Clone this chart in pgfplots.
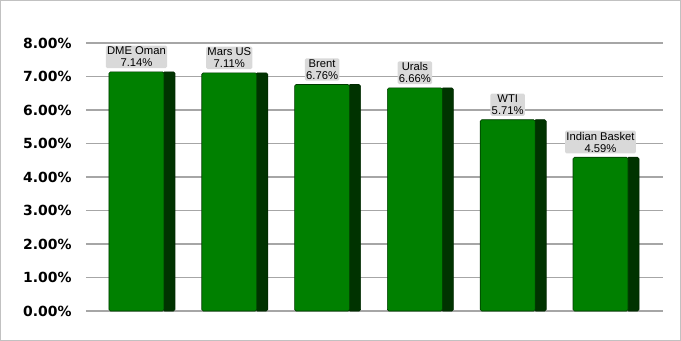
\documentclass[border=0pt]{standalone}
\usepackage{pgfplots}
\pgfplotsset{compat=1.18}
\usepackage{fontspec}
\setmainfont{Liberation Sans}
\newfontfamily\dejavu{DejaVu Sans}
\definecolor{barfront}{RGB}{0,128,0}
\definecolor{barside}{RGB}{0,51,0}
\definecolor{gridc}{RGB}{166,166,166}
\definecolor{lblbg}{RGB}{217,217,217}
\begin{document}
\begin{tikzpicture}
\useasboundingbox (0,0) rectangle (681bp,341bp);
\draw[gridc!70,line width=1bp] (0.5bp,0.5bp) rectangle (680.5bp,340.5bp);
\begin{axis}[
  at={(86bp,30bp)}, anchor=south west,
  scale only axis, width=577bp, height=268bp,
  ybar, clip=false,
  xmin=-0.603, xmax=5.614,
  ymin=0, ymax=8,
  ytick={0,1,2,3,4,5,6,7,8},
  xtick=\empty,
  axis line style={draw=none},
  major tick length=0pt,
  ymajorgrids, grid style={gridc,line width=1.2bp},
  /pgf/number format/assume math mode=true,
  yticklabel={\pgfmathprintnumber[fixed,fixed zerofill,precision=2]{\tick}\%},
  yticklabel style={font=\dejavu\bfseries\fontsize{14}{16}\selectfont, xshift=-11bp},
]
\addplot[bar shift=27bp, bar width=12bp, fill=barside, draw=barside!80!black, line width=0.6bp, rounded corners=1.5bp]
  coordinates {(0,7.14) (1,7.11) (2,6.76) (3,6.66) (4,5.71) (5,4.59)};
\addplot[bar shift=-5.5bp, bar width=55bp, fill=barfront, draw=barside!90!barfront, line width=0.6bp, rounded corners=1.5bp,
  point meta=explicit symbolic,
  nodes near coords,
  every node near coord/.append style={font=\fontsize{11.3}{12}\selectfont, align=center, fill=lblbg, inner sep=1.3bp, anchor=south, yshift=3.5bp}]
  coordinates {(0,7.14) [DME Oman\\7.14\%] (1,7.11) [Mars US\\7.11\%] (2,6.76) [Brent\\6.76\%]
               (3,6.66) [Urals\\6.66\%] (4,5.71) [WTI\\5.71\%] (5,4.59) [Indian Basket\\4.59\%]};
\end{axis}
\end{tikzpicture}
\end{document}
